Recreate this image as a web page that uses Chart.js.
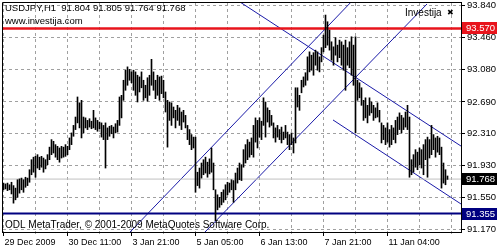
<!DOCTYPE html>
<html>
<head>
<meta charset="utf-8">
<script src="https://cdn.jsdelivr.net/npm/chart.js@4"></script>
<style>
  html, body { margin: 0; padding: 0; background: #fff; }
  canvas { display: block; }
</style>
</head>
<body>
<canvas id="chart" width="503" height="250"></canvas>
<script>
// USDJPY H1 bars, high / low per hour (bar index 0 = 29 Dec 2009)
const highs = [
  91.72, 91.71, 91.72, 91.70, 91.73, 91.69, 91.66, 91.76, 91.77, 91.78,
  91.76, 91.79, 91.78, 91.88, 92.00, 92.03, 92.04, 92.06, 92.03, 92.04,
  92.02, 92.00, 92.06, 92.15, 92.24, 92.22, 92.18, 92.16, 92.14, 92.16,
  92.15, 92.18, 92.16, 92.26, 92.32, 92.41, 92.51, 92.75, 92.68, 92.71,
  92.51, 92.50, 92.47, 92.49, 92.46, 92.59, 92.50, 92.47, 92.45, 92.44,
  92.41, 92.44, 92.38, 92.40, 92.41, 92.39, 92.43, 92.47, 92.75, 92.77,
  92.95, 93.07, 93.11, 93.08, 93.05, 93.07, 93.05, 93.01, 92.99, 93.05,
  92.95, 92.89, 92.98, 93.01, 93.20, 93.05, 92.95, 93.01, 92.99, 93.00,
  92.95, 92.81, 92.71, 92.69, 92.68, 92.63, 92.59, 92.65, 92.62, 92.57,
  92.59, 92.53, 92.41, 92.36, 92.30, 92.27, 92.27, 91.85, 91.90, 91.96,
  92.00, 92.03, 91.97, 92.01, 92.14, 91.96, 91.64, 91.58, 91.55, 91.61,
  91.64, 91.70, 91.73, 91.72, 91.76, 91.75, 91.84, 91.90, 91.96, 91.94,
  92.12, 92.18, 92.24, 92.21, 92.26, 92.41, 92.50, 92.47, 92.50, 92.46,
  92.74, 92.69, 92.62, 92.59, 92.53, 92.44, 92.38, 92.41, 92.36, 92.39,
  92.33, 92.41, 92.33, 92.30, 92.32, 92.26, 92.86, 92.86, 92.77, 92.95,
  92.99, 93.04, 93.23, 93.29, 93.25, 93.28, 93.31, 93.29, 93.23, 93.34,
  93.49, 93.73, 93.65, 93.55, 93.41, 93.35, 93.46, 93.37, 93.43, 93.41,
  93.37, 93.43, 93.34, 93.41, 93.47, 93.37, 93.47, 92.95, 92.92, 92.86,
  92.71, 92.74, 92.65, 92.74, 92.69, 92.65, 92.62, 92.68, 92.59, 92.44,
  92.41, 92.38, 92.44, 92.36, 92.41, 92.38, 92.47, 92.51, 92.56, 92.53,
  92.50, 92.57, 92.65, 92.51, 92.00, 92.06, 92.12, 92.09, 92.14, 92.12,
  92.18, 92.24, 92.27, 92.24, 92.41, 92.30, 92.26, 92.28, 92.26, 92.15,
  91.96, 91.88, 91.805
];
const lows = [
  91.64, 91.65, 91.63, 91.64, 91.59, 91.48, 91.52, 91.55, 91.60, 91.64,
  91.61, 91.67, 91.69, 91.73, 91.82, 91.85, 91.79, 91.90, 91.88, 91.91,
  91.85, 91.89, 91.94, 92.00, 92.06, 92.08, 92.03, 92.00, 91.97, 92.02,
  92.03, 92.04, 92.06, 92.12, 92.18, 92.28, 92.36, 92.44, 92.38, 92.26,
  92.32, 92.38, 92.36, 92.39, 92.37, 92.38, 92.36, 92.34, 92.37, 92.27,
  92.24, 91.90, 92.24, 92.28, 92.31, 92.26, 92.32, 92.33, 92.41, 92.50,
  92.71, 92.83, 92.89, 92.95, 92.92, 92.83, 92.77, 92.69, 92.81, 92.86,
  92.71, 92.74, 92.70, 92.77, 92.89, 92.83, 92.73, 92.77, 92.71, 92.79,
  92.74, 92.57, 92.15, 92.47, 92.41, 92.50, 92.38, 92.47, 92.41, 92.36,
  92.45, 92.38, 92.24, 92.18, 92.12, 92.14, 91.61, 91.69, 91.66, 91.78,
  91.82, 91.84, 91.79, 91.83, 91.85, 91.64, 91.27, 91.40, 91.43, 91.46,
  91.49, 91.52, 91.58, 91.61, 91.64, 91.49, 91.64, 91.72, 91.76, 91.75,
  91.91, 91.96, 92.00, 92.03, 92.06, 92.03, 92.21, 92.14, 92.27, 92.24,
  92.41, 92.27, 92.45, 92.39, 92.41, 92.26, 92.21, 92.27, 92.24, 92.20,
  92.24, 92.26, 92.18, 92.12, 92.18, 92.08, 92.20, 92.63, 92.59, 92.80,
  92.87, 92.89, 92.95, 93.05, 93.07, 93.01, 93.13, 93.07, 93.05, 93.17,
  93.29, 93.34, 93.37, 93.31, 93.19, 93.13, 93.25, 93.17, 93.22, 93.13,
  93.07, 92.83, 93.13, 93.10, 93.01, 92.89, 92.32, 92.71, 92.74, 92.65,
  92.47, 92.50, 92.44, 92.53, 92.56, 92.47, 92.50, 92.51, 92.45, 92.20,
  92.24, 92.18, 92.21, 92.15, 92.18, 92.24, 92.20, 92.30, 92.36, 92.32,
  92.36, 92.39, 92.36, 91.79, 91.82, 91.85, 91.91, 91.88, 91.94, 91.90,
  91.82, 92.00, 91.79, 92.02, 92.06, 92.12, 92.03, 92.09, 92.06, 91.66,
  91.72, 91.70, 91.764
];

// time axis: a label every 32 bars, grid every 16
const xTickIdx = [0, 32, 64, 96, 128, 160, 192];
const xTickLabels = ['29 Dec 2009', '30 Dec 11:00', '3 Jan 21:00', '5 Jan 05:00',
                     '6 Jan 13:00', '7 Jan 21:00', '11 Jan 04:00'];
const xGridIdx = [0, 16, 32, 48, 64, 80, 96, 112, 128, 144, 160, 176, 192, 208, 224];

// price axis
const yTicks = [91.170, 91.550, 91.930, 92.310, 92.690, 93.080, 93.460, 93.840];

// levels
const resistance = 93.570;
const support = 91.355;
const lastPrice = 91.768;

// trend channels: [bar index, price]
const upChannelTop = [[63.3, 91.135], [173.8, 93.886]];
const upChannelBottom = [[100.75, 91.135], [211.75, 93.862]];
const downChannelTop = [[118.25, 93.886], [228.75, 92.163]];
const downChannelBottom = [[164.75, 92.475], [228.75, 91.470]];

const headerText = 'USDJPY,H1  91.804 91.805 91.764 91.768';
const siteText = 'www.investija.com';
const footerText = 'ODL MetaTrader, \u00a9 2001-2009 MetaQuotes Software Corp.';

const FAMILY = '"Liberation Sans", Arial, sans-serif';
const GRID = '#a0a0a0';
const X_MIN = -0.75, X_MAX = 228.75;
const Y_MIN = 91.135, Y_MAX = 93.886;

function seg(points) {
  return points.map(p => ({ x: p[0], y: p[1] }));
}
function hline(v) {
  return [{ x: X_MIN, y: v }, { x: X_MAX, y: v }];
}
function lineSet(data, color, width) {
  return {
    type: 'line', data: data, borderColor: color, borderWidth: width,
    pointRadius: 0, fill: false, tension: 0, order: 2
  };
}
// no automatic label padding, keep the plot box fixed
function noPad(s) {
  s.paddingTop = 0; s.paddingBottom = 0; s.paddingLeft = 0; s.paddingRight = 0;
}

const overlay = {
  id: 'overlay',
  afterDraw(chart) {
    const { ctx, chartArea: a, scales: { x, y } } = chart;
    ctx.save();

    // dashed grid as small rects, painted underneath what is already drawn
    ctx.globalCompositeOperation = 'destination-over';
    ctx.fillStyle = GRID;
    xGridIdx.forEach(v => {
      const px = Math.floor(x.getPixelForValue(v));
      for (let t = a.top + 1; t < a.bottom; t += 6) ctx.fillRect(px, t, 1, 3);
    });
    yTicks.forEach(v => {
      const py = Math.floor(y.getPixelForValue(v));
      for (let t = a.left + 1; t < a.right; t += 6) ctx.fillRect(t, py, 3, 1);
    });
    ctx.globalCompositeOperation = 'source-over';

    // frame left / top
    ctx.strokeStyle = '#000';
    ctx.lineWidth = 1;
    ctx.beginPath();
    ctx.moveTo(a.left + 0.5, a.bottom);
    ctx.lineTo(a.left + 0.5, a.top + 0.5);
    ctx.lineTo(a.right, a.top + 0.5);
    ctx.stroke();

    ctx.font = '9.5px ' + FAMILY;
    ctx.fillStyle = '#000';
    ctx.textBaseline = 'middle';
    ctx.textAlign = 'left';
    ctx.fillText(headerText, 5, 8);
    ctx.fillText(siteText, 5, 21);
    ctx.font = '10px ' + FAMILY;
    ctx.fillText(footerText, 5, 225);
    ctx.fillText('Investija', 405, 13);
    ctx.font = 'bold 8px "DejaVu Sans", sans-serif';
    ctx.fillText('\u2716', 447, 13);

    // price labels on the axis
    const boxes = [[resistance, '#e8141c'], [lastPrice, '#000000'], [support, '#000080']];
    ctx.font = '9.5px ' + FAMILY;
    boxes.forEach(b => {
      const py = Math.round(y.getPixelForValue(b[0]));
      ctx.fillStyle = b[1];
      ctx.fillRect(a.right + 1, py - 6, 35, 12);
      ctx.fillStyle = '#fff';
      ctx.fillText(b[0].toFixed(3), a.right + 5, py + 0.5);
    });
    ctx.restore();
  }
};

new Chart(document.getElementById('chart'), {
  data: {
    datasets: [
      {
        type: 'bar',
        data: highs.map((h, i) => ({ x: i, y: [lows[i], h] })),
        backgroundColor: '#000',
        borderWidth: 0,
        barThickness: 1,
        order: 1
      },
      lineSet(hline(lastPrice), '#c0c0c0', 1),
      lineSet(hline(resistance), '#e8141c', 2.5),
      lineSet(hline(support), '#000080', 2),
      lineSet(seg(upChannelTop), '#1a1aa8', 1),
      lineSet(seg(upChannelBottom), '#1a1aa8', 1),
      lineSet(seg(downChannelTop), '#1a1aa8', 1),
      lineSet(seg(downChannelBottom), '#1a1aa8', 1)
    ]
  },
  options: {
    responsive: false,
    animation: false,
    events: [],
    layout: { padding: { left: 2, top: 2, right: 0, bottom: 0 } },
    plugins: { legend: { display: false }, tooltip: { enabled: false } },
    scales: {
      x: {
        type: 'linear',
        offset: false,
        min: X_MIN,
        max: X_MAX,
        afterBuildTicks: s => { s.ticks = xGridIdx.map(v => ({ value: v })); },
        afterFit: s => { s.height = 18; noPad(s); },
        grid: {
          offset: false,
          drawOnChartArea: false,
          tickLength: 4,
          tickColor: c => (c.tick && xTickIdx.includes(c.tick.value)) ? '#000' : 'rgba(0,0,0,0)'
        },
        border: { display: true, color: '#000' },
        ticks: {
          autoSkip: false,
          maxRotation: 0,
          align: 'start',
          padding: 1,
          labelOffset: 1,
          color: '#000',
          font: { family: FAMILY, size: 9 },
          callback: v => {
            const k = xTickIdx.indexOf(v);
            return k >= 0 ? xTickLabels[k] : '';
          }
        }
      },
      y: {
        position: 'right',
        min: Y_MIN,
        max: Y_MAX,
        afterBuildTicks: s => { s.ticks = yTicks.map(v => ({ value: v })); },
        afterFit: s => { s.width = 42; noPad(s); },
        grid: { drawOnChartArea: false, tickLength: 4, tickColor: '#000' },
        border: { display: true, color: '#000' },
        ticks: {
          padding: 2,
          color: '#000',
          font: { family: FAMILY, size: 9.5 },
          callback: v => v.toFixed(3)
        }
      }
    }
  },
  plugins: [overlay]
});
</script>
</body>
</html>
